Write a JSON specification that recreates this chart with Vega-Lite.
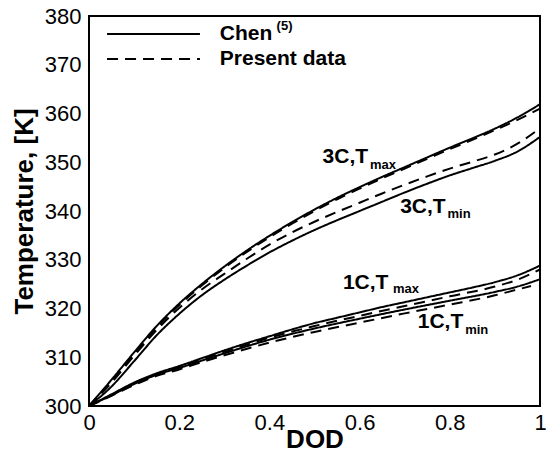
{
  "$schema": "https://vega.github.io/schema/vega-lite/v6.json",
  "width": 451,
  "height": 390,
  "autosize": {"type": "none"},
  "padding": {"left": 89, "top": 16, "right": 7, "bottom": 46},
  "background": "white",
  "config": {
    "view": {"stroke": "black", "strokeWidth": 2},
    "axis": {
      "grid": false,
      "ticks": false,
      "domain": false,
      "labelColor": "black",
      "titleColor": "black",
      "labelFont": "Liberation Sans",
      "titleFont": "Liberation Sans",
      "labelFontSize": 22,
      "titleFontSize": 26,
      "titleFontWeight": "bold"
    },
    "text": {"font": "Liberation Sans", "fontWeight": "bold", "color": "black"}
  },
  "datasets": {
    "curves": [
      {"x": 0, "T": 300, "curve": "3C Tmax Chen", "src": "Chen"},
      {"x": 0.05, "T": 305.4, "curve": "3C Tmax Chen", "src": "Chen"},
      {"x": 0.1, "T": 311, "curve": "3C Tmax Chen", "src": "Chen"},
      {"x": 0.15, "T": 316.4, "curve": "3C Tmax Chen", "src": "Chen"},
      {"x": 0.2, "T": 321, "curve": "3C Tmax Chen", "src": "Chen"},
      {"x": 0.25, "T": 325, "curve": "3C Tmax Chen", "src": "Chen"},
      {"x": 0.3, "T": 328.6, "curve": "3C Tmax Chen", "src": "Chen"},
      {"x": 0.35, "T": 331.9, "curve": "3C Tmax Chen", "src": "Chen"},
      {"x": 0.4, "T": 334.9, "curve": "3C Tmax Chen", "src": "Chen"},
      {"x": 0.45, "T": 337.7, "curve": "3C Tmax Chen", "src": "Chen"},
      {"x": 0.5, "T": 340.3, "curve": "3C Tmax Chen", "src": "Chen"},
      {"x": 0.55, "T": 342.7, "curve": "3C Tmax Chen", "src": "Chen"},
      {"x": 0.6, "T": 344.9, "curve": "3C Tmax Chen", "src": "Chen"},
      {"x": 0.65, "T": 347, "curve": "3C Tmax Chen", "src": "Chen"},
      {"x": 0.7, "T": 349, "curve": "3C Tmax Chen", "src": "Chen"},
      {"x": 0.75, "T": 351, "curve": "3C Tmax Chen", "src": "Chen"},
      {"x": 0.8, "T": 353, "curve": "3C Tmax Chen", "src": "Chen"},
      {"x": 0.85, "T": 354.9, "curve": "3C Tmax Chen", "src": "Chen"},
      {"x": 0.9, "T": 356.9, "curve": "3C Tmax Chen", "src": "Chen"},
      {"x": 0.95, "T": 359.2, "curve": "3C Tmax Chen", "src": "Chen"},
      {"x": 1, "T": 361.9, "curve": "3C Tmax Chen", "src": "Chen"},

      {"x": 0, "T": 300, "curve": "3C Tmax Present", "src": "Present"},
      {"x": 0.05, "T": 305.1, "curve": "3C Tmax Present", "src": "Present"},
      {"x": 0.1, "T": 310.7, "curve": "3C Tmax Present", "src": "Present"},
      {"x": 0.15, "T": 316.1, "curve": "3C Tmax Present", "src": "Present"},
      {"x": 0.2, "T": 320.7, "curve": "3C Tmax Present", "src": "Present"},
      {"x": 0.25, "T": 324.7, "curve": "3C Tmax Present", "src": "Present"},
      {"x": 0.3, "T": 328.3, "curve": "3C Tmax Present", "src": "Present"},
      {"x": 0.35, "T": 331.6, "curve": "3C Tmax Present", "src": "Present"},
      {"x": 0.4, "T": 334.6, "curve": "3C Tmax Present", "src": "Present"},
      {"x": 0.45, "T": 337.4, "curve": "3C Tmax Present", "src": "Present"},
      {"x": 0.5, "T": 340, "curve": "3C Tmax Present", "src": "Present"},
      {"x": 0.55, "T": 342.4, "curve": "3C Tmax Present", "src": "Present"},
      {"x": 0.6, "T": 344.6, "curve": "3C Tmax Present", "src": "Present"},
      {"x": 0.65, "T": 346.7, "curve": "3C Tmax Present", "src": "Present"},
      {"x": 0.7, "T": 348.7, "curve": "3C Tmax Present", "src": "Present"},
      {"x": 0.75, "T": 350.7, "curve": "3C Tmax Present", "src": "Present"},
      {"x": 0.8, "T": 352.7, "curve": "3C Tmax Present", "src": "Present"},
      {"x": 0.85, "T": 354.6, "curve": "3C Tmax Present", "src": "Present"},
      {"x": 0.9, "T": 356.6, "curve": "3C Tmax Present", "src": "Present"},
      {"x": 0.95, "T": 358.7, "curve": "3C Tmax Present", "src": "Present"},
      {"x": 1, "T": 361, "curve": "3C Tmax Present", "src": "Present"},

      {"x": 0, "T": 300, "curve": "3C Tmin Present", "src": "Present"},
      {"x": 0.05, "T": 304.8, "curve": "3C Tmin Present", "src": "Present"},
      {"x": 0.1, "T": 310.3, "curve": "3C Tmin Present", "src": "Present"},
      {"x": 0.15, "T": 315.6, "curve": "3C Tmin Present", "src": "Present"},
      {"x": 0.2, "T": 320.1, "curve": "3C Tmin Present", "src": "Present"},
      {"x": 0.25, "T": 323.9, "curve": "3C Tmin Present", "src": "Present"},
      {"x": 0.3, "T": 327.1, "curve": "3C Tmin Present", "src": "Present"},
      {"x": 0.35, "T": 330.2, "curve": "3C Tmin Present", "src": "Present"},
      {"x": 0.4, "T": 333.1, "curve": "3C Tmin Present", "src": "Present"},
      {"x": 0.45, "T": 335.6, "curve": "3C Tmin Present", "src": "Present"},
      {"x": 0.5, "T": 337.8, "curve": "3C Tmin Present", "src": "Present"},
      {"x": 0.55, "T": 339.8, "curve": "3C Tmin Present", "src": "Present"},
      {"x": 0.6, "T": 341.7, "curve": "3C Tmin Present", "src": "Present"},
      {"x": 0.65, "T": 343.6, "curve": "3C Tmin Present", "src": "Present"},
      {"x": 0.7, "T": 345.4, "curve": "3C Tmin Present", "src": "Present"},
      {"x": 0.75, "T": 347.1, "curve": "3C Tmin Present", "src": "Present"},
      {"x": 0.8, "T": 348.7, "curve": "3C Tmin Present", "src": "Present"},
      {"x": 0.85, "T": 350.1, "curve": "3C Tmin Present", "src": "Present"},
      {"x": 0.9, "T": 351.6, "curve": "3C Tmin Present", "src": "Present"},
      {"x": 0.95, "T": 353.8, "curve": "3C Tmin Present", "src": "Present"},
      {"x": 1, "T": 357, "curve": "3C Tmin Present", "src": "Present"},

      {"x": 0, "T": 300, "curve": "3C Tmin Chen", "src": "Chen"},
      {"x": 0.05, "T": 304.0, "curve": "3C Tmin Chen", "src": "Chen"},
      {"x": 0.1, "T": 309.2, "curve": "3C Tmin Chen", "src": "Chen"},
      {"x": 0.15, "T": 314.5, "curve": "3C Tmin Chen", "src": "Chen"},
      {"x": 0.2, "T": 318.9, "curve": "3C Tmin Chen", "src": "Chen"},
      {"x": 0.25, "T": 322.7, "curve": "3C Tmin Chen", "src": "Chen"},
      {"x": 0.3, "T": 325.9, "curve": "3C Tmin Chen", "src": "Chen"},
      {"x": 0.35, "T": 328.8, "curve": "3C Tmin Chen", "src": "Chen"},
      {"x": 0.4, "T": 331.5, "curve": "3C Tmin Chen", "src": "Chen"},
      {"x": 0.45, "T": 333.9, "curve": "3C Tmin Chen", "src": "Chen"},
      {"x": 0.5, "T": 336.1, "curve": "3C Tmin Chen", "src": "Chen"},
      {"x": 0.55, "T": 338.1, "curve": "3C Tmin Chen", "src": "Chen"},
      {"x": 0.6, "T": 340, "curve": "3C Tmin Chen", "src": "Chen"},
      {"x": 0.65, "T": 341.9, "curve": "3C Tmin Chen", "src": "Chen"},
      {"x": 0.7, "T": 343.8, "curve": "3C Tmin Chen", "src": "Chen"},
      {"x": 0.75, "T": 345.6, "curve": "3C Tmin Chen", "src": "Chen"},
      {"x": 0.8, "T": 347.3, "curve": "3C Tmin Chen", "src": "Chen"},
      {"x": 0.85, "T": 348.8, "curve": "3C Tmin Chen", "src": "Chen"},
      {"x": 0.9, "T": 350.3, "curve": "3C Tmin Chen", "src": "Chen"},
      {"x": 0.95, "T": 352.2, "curve": "3C Tmin Chen", "src": "Chen"},
      {"x": 1, "T": 355.2, "curve": "3C Tmin Chen", "src": "Chen"},

      {"x": 0, "T": 300, "curve": "1C Tmax Chen", "src": "Chen"},
      {"x": 0.05, "T": 302.4, "curve": "1C Tmax Chen", "src": "Chen"},
      {"x": 0.1, "T": 304.8, "curve": "1C Tmax Chen", "src": "Chen"},
      {"x": 0.15, "T": 306.7, "curve": "1C Tmax Chen", "src": "Chen"},
      {"x": 0.2, "T": 308.2, "curve": "1C Tmax Chen", "src": "Chen"},
      {"x": 0.25, "T": 309.8, "curve": "1C Tmax Chen", "src": "Chen"},
      {"x": 0.3, "T": 311.4, "curve": "1C Tmax Chen", "src": "Chen"},
      {"x": 0.35, "T": 312.9, "curve": "1C Tmax Chen", "src": "Chen"},
      {"x": 0.4, "T": 314.3, "curve": "1C Tmax Chen", "src": "Chen"},
      {"x": 0.45, "T": 315.7, "curve": "1C Tmax Chen", "src": "Chen"},
      {"x": 0.5, "T": 317, "curve": "1C Tmax Chen", "src": "Chen"},
      {"x": 0.55, "T": 318.1, "curve": "1C Tmax Chen", "src": "Chen"},
      {"x": 0.6, "T": 319.2, "curve": "1C Tmax Chen", "src": "Chen"},
      {"x": 0.65, "T": 320.3, "curve": "1C Tmax Chen", "src": "Chen"},
      {"x": 0.7, "T": 321.3, "curve": "1C Tmax Chen", "src": "Chen"},
      {"x": 0.75, "T": 322.3, "curve": "1C Tmax Chen", "src": "Chen"},
      {"x": 0.8, "T": 323.3, "curve": "1C Tmax Chen", "src": "Chen"},
      {"x": 0.85, "T": 324.3, "curve": "1C Tmax Chen", "src": "Chen"},
      {"x": 0.9, "T": 325.4, "curve": "1C Tmax Chen", "src": "Chen"},
      {"x": 0.95, "T": 326.8, "curve": "1C Tmax Chen", "src": "Chen"},
      {"x": 1, "T": 328.8, "curve": "1C Tmax Chen", "src": "Chen"},

      {"x": 0, "T": 300, "curve": "1C Tmax Present", "src": "Present"},
      {"x": 0.05, "T": 302.3, "curve": "1C Tmax Present", "src": "Present"},
      {"x": 0.1, "T": 304.7, "curve": "1C Tmax Present", "src": "Present"},
      {"x": 0.15, "T": 306.6, "curve": "1C Tmax Present", "src": "Present"},
      {"x": 0.2, "T": 308, "curve": "1C Tmax Present", "src": "Present"},
      {"x": 0.25, "T": 309.6, "curve": "1C Tmax Present", "src": "Present"},
      {"x": 0.3, "T": 311.1, "curve": "1C Tmax Present", "src": "Present"},
      {"x": 0.4, "T": 314, "curve": "1C Tmax Present", "src": "Present"},
      {"x": 0.5, "T": 316.4, "curve": "1C Tmax Present", "src": "Present"},
      {"x": 0.6, "T": 318.5, "curve": "1C Tmax Present", "src": "Present"},
      {"x": 0.7, "T": 320.5, "curve": "1C Tmax Present", "src": "Present"},
      {"x": 0.8, "T": 322.5, "curve": "1C Tmax Present", "src": "Present"},
      {"x": 0.9, "T": 324.5, "curve": "1C Tmax Present", "src": "Present"},
      {"x": 0.95, "T": 325.9, "curve": "1C Tmax Present", "src": "Present"},
      {"x": 1, "T": 328, "curve": "1C Tmax Present", "src": "Present"},

      {"x": 0, "T": 300, "curve": "1C Tmin Chen", "src": "Chen"},
      {"x": 0.05, "T": 302.2, "curve": "1C Tmin Chen", "src": "Chen"},
      {"x": 0.1, "T": 304.5, "curve": "1C Tmin Chen", "src": "Chen"},
      {"x": 0.15, "T": 306.4, "curve": "1C Tmin Chen", "src": "Chen"},
      {"x": 0.2, "T": 307.8, "curve": "1C Tmin Chen", "src": "Chen"},
      {"x": 0.25, "T": 309.3, "curve": "1C Tmin Chen", "src": "Chen"},
      {"x": 0.3, "T": 310.8, "curve": "1C Tmin Chen", "src": "Chen"},
      {"x": 0.4, "T": 313.6, "curve": "1C Tmin Chen", "src": "Chen"},
      {"x": 0.5, "T": 315.9, "curve": "1C Tmin Chen", "src": "Chen"},
      {"x": 0.6, "T": 317.9, "curve": "1C Tmin Chen", "src": "Chen"},
      {"x": 0.7, "T": 319.8, "curve": "1C Tmin Chen", "src": "Chen"},
      {"x": 0.8, "T": 321.6, "curve": "1C Tmin Chen", "src": "Chen"},
      {"x": 0.9, "T": 323.4, "curve": "1C Tmin Chen", "src": "Chen"},
      {"x": 0.95, "T": 324.5, "curve": "1C Tmin Chen", "src": "Chen"},
      {"x": 1, "T": 326, "curve": "1C Tmin Chen", "src": "Chen"},

      {"x": 0, "T": 300, "curve": "1C Tmin Present", "src": "Present"},
      {"x": 0.05, "T": 302.1, "curve": "1C Tmin Present", "src": "Present"},
      {"x": 0.1, "T": 304.3, "curve": "1C Tmin Present", "src": "Present"},
      {"x": 0.15, "T": 306.2, "curve": "1C Tmin Present", "src": "Present"},
      {"x": 0.2, "T": 307.5, "curve": "1C Tmin Present", "src": "Present"},
      {"x": 0.25, "T": 309, "curve": "1C Tmin Present", "src": "Present"},
      {"x": 0.3, "T": 310.4, "curve": "1C Tmin Present", "src": "Present"},
      {"x": 0.4, "T": 313, "curve": "1C Tmin Present", "src": "Present"},
      {"x": 0.5, "T": 315.2, "curve": "1C Tmin Present", "src": "Present"},
      {"x": 0.6, "T": 317.1, "curve": "1C Tmin Present", "src": "Present"},
      {"x": 0.7, "T": 319, "curve": "1C Tmin Present", "src": "Present"},
      {"x": 0.8, "T": 320.8, "curve": "1C Tmin Present", "src": "Present"},
      {"x": 0.9, "T": 322.7, "curve": "1C Tmin Present", "src": "Present"},
      {"x": 0.95, "T": 323.9, "curve": "1C Tmin Present", "src": "Present"},
      {"x": 0.98, "T": 324.6, "curve": "1C Tmin Present", "src": "Present"}
    ],
    "legendLines": [
      {"x": 0.04, "T": 376.3, "src": "Chen"},
      {"x": 0.246, "T": 376.3, "src": "Chen"},
      {"x": 0.04, "T": 371.2, "src": "Present"},
      {"x": 0.246, "T": 371.2, "src": "Present"}
    ],
    "yTicks": [
      {"T": 302, "kind": "minor"}, {"T": 304, "kind": "minor"}, {"T": 306, "kind": "minor"}, {"T": 308, "kind": "minor"},
      {"T": 310, "kind": "major"},
      {"T": 312, "kind": "minor"}, {"T": 314, "kind": "minor"}, {"T": 316, "kind": "minor"}, {"T": 318, "kind": "minor"},
      {"T": 320, "kind": "major"},
      {"T": 322, "kind": "minor"}, {"T": 324, "kind": "minor"}, {"T": 326, "kind": "minor"}, {"T": 328, "kind": "minor"},
      {"T": 330, "kind": "major"},
      {"T": 332, "kind": "minor"}, {"T": 334, "kind": "minor"}, {"T": 336, "kind": "minor"}, {"T": 338, "kind": "minor"},
      {"T": 340, "kind": "major"},
      {"T": 342, "kind": "minor"}, {"T": 344, "kind": "minor"}, {"T": 346, "kind": "minor"}, {"T": 348, "kind": "minor"},
      {"T": 350, "kind": "major"},
      {"T": 352, "kind": "minor"}, {"T": 354, "kind": "minor"}, {"T": 356, "kind": "minor"}, {"T": 358, "kind": "minor"},
      {"T": 360, "kind": "major"},
      {"T": 362, "kind": "minor"}, {"T": 364, "kind": "minor"}, {"T": 366, "kind": "minor"}, {"T": 368, "kind": "minor"},
      {"T": 370, "kind": "major"},
      {"T": 372, "kind": "minor"}, {"T": 374, "kind": "minor"}, {"T": 376, "kind": "minor"}, {"T": 378, "kind": "minor"}
    ],
    "xTicks": [
      {"x": 0.05, "kind": "minor"}, {"x": 0.1, "kind": "minor"}, {"x": 0.15, "kind": "minor"},
      {"x": 0.2, "kind": "major"},
      {"x": 0.25, "kind": "minor"}, {"x": 0.3, "kind": "minor"}, {"x": 0.35, "kind": "minor"},
      {"x": 0.4, "kind": "major"},
      {"x": 0.45, "kind": "minor"}, {"x": 0.5, "kind": "minor"}, {"x": 0.55, "kind": "minor"},
      {"x": 0.6, "kind": "major"},
      {"x": 0.65, "kind": "minor"}, {"x": 0.7, "kind": "minor"}, {"x": 0.75, "kind": "minor"},
      {"x": 0.8, "kind": "major"},
      {"x": 0.85, "kind": "minor"}, {"x": 0.9, "kind": "minor"}, {"x": 0.95, "kind": "minor"}
    ],
    "mainText": [
      {"x": 0.29, "T": 376.3, "label": "Chen"},
      {"x": 0.29, "T": 371.2, "label": "Present data"},
      {"x": 0.518, "T": 351.0, "label": "3C,T"},
      {"x": 0.690, "T": 340.8, "label": "3C,T"},
      {"x": 0.563, "T": 325.2, "label": "1C,T"},
      {"x": 0.729, "T": 317.3, "label": "1C,T"}
    ],
    "subText": [
      {"x": 0.416, "T": 377.9, "label": "(5)"},
      {"x": 0.623, "T": 349.4, "label": "max"},
      {"x": 0.795, "T": 339.3, "label": "min"},
      {"x": 0.674, "T": 324.0, "label": "max"},
      {"x": 0.834, "T": 315.6, "label": "min"}
    ]
  },
  "encoding": {
    "x": {
      "field": "x",
      "type": "quantitative",
      "scale": {"domain": [0, 1], "nice": false, "zero": false},
      "axis": {
        "title": "DOD",
        "values": [0, 0.2, 0.4, 0.6, 0.8, 1],
        "format": "~g",
        "labelPadding": 6,
        "labelFlush": false,
        "titleY": 41,
        "titleBaseline": "alphabetic"
      }
    },
    "y": {
      "field": "T",
      "type": "quantitative",
      "scale": {"domain": [300, 380], "nice": false, "zero": false},
      "axis": {
        "title": "Temperature, [K]",
        "values": [300, 310, 320, 330, 340, 350, 360, 370, 380],
        "format": "d",
        "labelPadding": 8,
        "labelFlush": false,
        "titleX": -57,
        "titleY": 195,
        "titleAngle": -90,
        "titleAlign": "center",
        "titleBaseline": "alphabetic"
      }
    }
  },
  "layer": [
    {
      "data": {"name": "curves"},
      "mark": {"type": "line", "color": "black", "strokeWidth": 2, "interpolate": "monotone"},
      "encoding": {
        "detail": {"field": "curve", "type": "nominal"},
        "strokeDash": {"field": "src", "type": "nominal", "scale": {"domain": ["Chen", "Present"], "range": [[1, 0], [11, 7]]}, "legend": null}
      }
    },
    {
      "data": {"name": "legendLines"},
      "mark": {"type": "line", "color": "black", "strokeWidth": 2},
      "encoding": {
        "detail": {"field": "src", "type": "nominal"},
        "strokeDash": {"field": "src", "type": "nominal", "scale": {"domain": ["Chen", "Present"], "range": [[1, 0], [11, 7]]}, "legend": null}
      }
    },
    {
      "data": {"name": "yTicks"},
      "transform": [{"filter": "datum.kind === 'major'"}],
      "mark": {"type": "rule", "color": "black", "strokeWidth": 2.5},
      "encoding": {
        "x": {"datum": 0, "type": "quantitative"},
        "x2": {"datum": 0.0244}
      }
    },
    {
      "data": {"name": "yTicks"},
      "transform": [{"filter": "datum.kind === 'minor'"}],
      "mark": {"type": "rule", "color": "black", "strokeWidth": 1.8},
      "encoding": {
        "x": {"datum": 0, "type": "quantitative"},
        "x2": {"datum": 0.0133}
      }
    },
    {
      "data": {"name": "xTicks"},
      "transform": [{"filter": "datum.kind === 'major'"}],
      "mark": {"type": "rule", "color": "black", "strokeWidth": 2.5},
      "encoding": {
        "y": {"datum": 300, "type": "quantitative"},
        "y2": {"datum": 302.26}
      }
    },
    {
      "data": {"name": "xTicks"},
      "transform": [{"filter": "datum.kind === 'minor'"}],
      "mark": {"type": "rule", "color": "black", "strokeWidth": 1.8},
      "encoding": {
        "y": {"datum": 300, "type": "quantitative"},
        "y2": {"datum": 301.23}
      }
    },
    {
      "data": {"name": "mainText"},
      "mark": {"type": "text", "align": "left", "baseline": "middle", "fontSize": 21},
      "encoding": {"text": {"field": "label", "type": "nominal"}}
    },
    {
      "data": {"name": "subText"},
      "mark": {"type": "text", "align": "left", "baseline": "middle", "fontSize": 13},
      "encoding": {"text": {"field": "label", "type": "nominal"}}
    }
  ]
}
